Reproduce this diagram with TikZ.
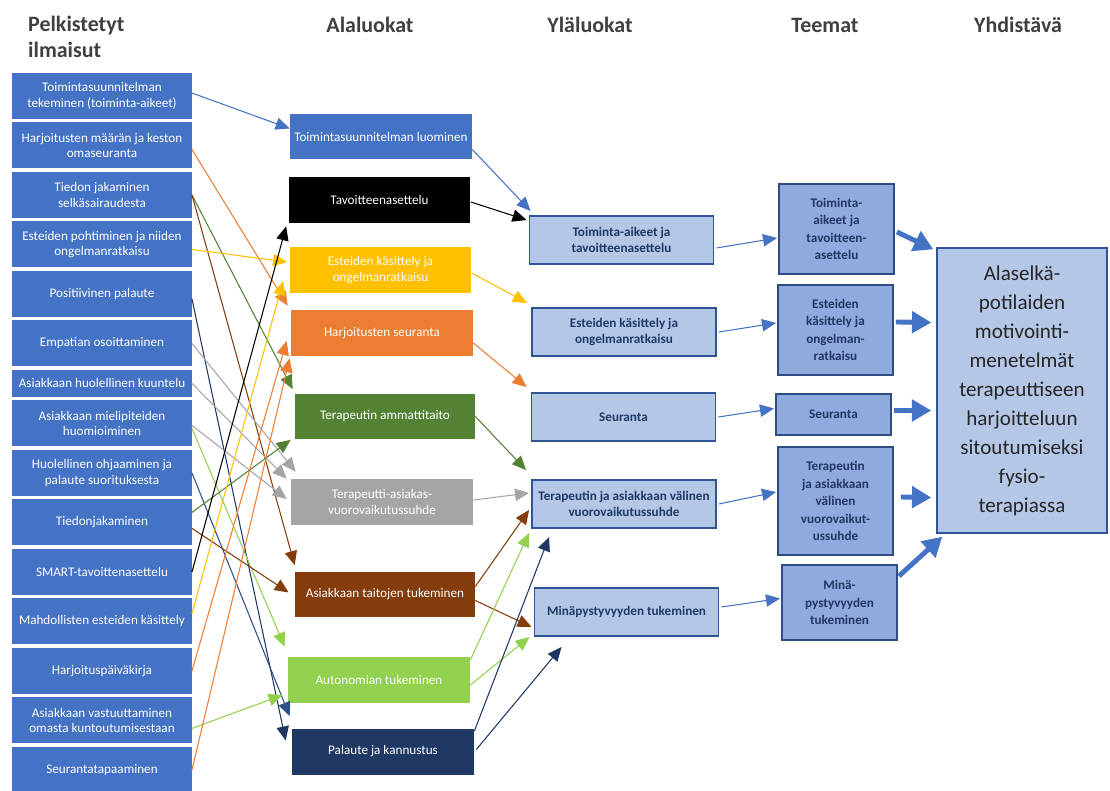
\documentclass[tikz,border=0pt]{standalone}
\usepackage{fontspec}
\setmainfont{Carlito}
\usepackage{tikz}
\usetikzlibrary{arrows.meta, positioning, calc}

\definecolor{officeblue}{HTML}{4472C4}
\definecolor{alaYellow}{HTML}{FFC000}
\definecolor{alaOrange}{HTML}{ED7D31}
\definecolor{alaGreen}{HTML}{548235}
\definecolor{alaGray}{HTML}{A5A5A5}
\definecolor{alaBrown}{HTML}{843C0C}
\definecolor{alaLight}{HTML}{92D050}
\definecolor{alaNavy}{HTML}{1F3864}
\definecolor{ylaFill}{HTML}{B4C7E7}
\definecolor{ylaEdge}{HTML}{2F5597}
\definecolor{teemaFill}{HTML}{8FAADC}
\definecolor{teemaEdge}{HTML}{2E4D85}
\definecolor{navyText}{HTML}{203864}

\begin{document}
\begin{tikzpicture}[
  x=0.02cm, y=-0.02cm,
  ilm/.style={fill=officeblue, text=white, minimum width=3.6cm, minimum height=0.92cm, inner sep=1pt, outer sep=0pt, align=center, font=\fontsize{7.5}{9}\selectfont},
  ala/.style={fill=#1, text=white, minimum width=3.64cm, minimum height=0.92cm, inner sep=1pt, align=center, font=\fontsize{7.5}{9}\selectfont},
  yla/.style={draw=ylaEdge, line width=1.1pt, fill=ylaFill, text=navyText, minimum width=3.68cm, minimum height=0.96cm, inner sep=1pt, align=center, font=\bfseries\fontsize{7.5}{9}\selectfont},
  teema/.style={draw=teemaEdge, line width=1.1pt, fill=teemaFill, text=navyText, minimum width=2.3cm, inner sep=1pt, align=center, font=\bfseries\fontsize{7.5}{10}\selectfont},
  otsikko/.style={text=black!75, font=\bfseries\fontsize{12.5}{14.5}\selectfont, align=left},
  link/.style={draw=#1, line width=0.6pt, -{Triangle[length=8pt,width=7pt]}},
  isonuoli/.style={draw=officeblue, line width=2.8pt, -{Triangle[length=11pt,width=12pt]}}
]
  \useasboundingbox [fill=white] (0,0) rectangle (1110,791);

  % column headings
  \node (h1) [otsikko, anchor=north west] at (22,10) {Pelkistetyt\\ilmaisut};
  \node (h2) [otsikko] at (370,25) {Alaluokat};
  \node (h3) [otsikko] at (590,25) {Yläluokat};
  \node (h4) [otsikko] at (825,25) {Teemat};
  \node (h5) [otsikko] at (1018,25) {Yhdistävä};

  % pelkistetyt ilmaisut
  \node (p1) [ilm] at (102,96) {Toimintasuunnitelman\\tekeminen (toiminta-aikeet)};
  \node (p2) [ilm, below=0.07cm of p1] {Harjoitusten määrän ja keston\\omaseuranta};
  \node (p3) [ilm, below=0.07cm of p2] {Tiedon jakaminen\\selkäsairaudesta};
  \node (p4) [ilm, below=0.07cm of p3] {Esteiden pohtiminen ja niiden\\ongelmanratkaisu};
  \node (p5) [ilm, below=0.07cm of p4] {Positiivinen palaute};
  \node (p6) [ilm, below=0.07cm of p5] {Empatian osoittaminen};
  \node (p7) [ilm, minimum height=0.54cm, below=0.07cm of p6] {Asiakkaan huolellinen kuuntelu};
  \node (p8) [ilm, below=0.07cm of p7] {Asiakkaan mielipiteiden\\huomioiminen};
  \node (p9) [ilm, below=0.07cm of p8] {Huolellinen ohjaaminen ja\\palaute suorituksesta};
  \node (p10) [ilm, below=0.07cm of p9] {Tiedonjakaminen};
  \node (p11) [ilm, below=0.07cm of p10] {SMART-tavoittenasettelu};
  \node (p12) [ilm, below=0.07cm of p11] {Mahdollisten esteiden käsittely};
  \node (p13) [ilm, below=0.07cm of p12] {Harjoituspäiväkirja};
  \node (p14) [ilm, below=0.07cm of p13] {Asiakkaan vastuuttaminen\\omasta kuntoutumisestaan};
  \node (p15) [ilm, below=0.07cm of p14] {Seurantatapaaminen};

  % alaluokat
  \node (luominen) [ala=officeblue] at (381,136.5) {Toimintasuunnitelman luominen};
  \node (tavoite) [ala=black] at (379.5,200) {Tavoitteenasettelu};
  \node (esteet) [ala=alaYellow] at (380.5,270) {Esteiden käsittely ja\\ongelmanratkaisu};
  \node (seuranta) [ala=alaOrange] at (382,333) {Harjoitusten seuranta};
  \node (ammatti) [ala=alaGreen, minimum width=3.6cm] at (385,416.5) {Terapeutin ammattitaito};
  \node (vuoro) [ala=alaGray] at (382,502) {Terapeutti-asiakas-\\vuorovaikutussuhde};
  \node (taidot) [ala=alaBrown, minimum width=3.6cm] at (385,594.5) {Asiakkaan taitojen tukeminen};
  \node (autonomia) [ala=alaLight] at (379,680) {Autonomian tukeminen};
  \node (palaute) [ala=alaNavy] at (383,751.5) {Palaute ja kannustus};

  % yläluokat
  \node (ytoim) [yla] at (621.5,240) {Toiminta-aikeet ja\\tavoitteenasettelu};
  \node (yest) [yla] at (624,332) {Esteiden käsittely ja\\ongelmanratkaisu};
  \node (yseur) [yla] at (623.5,417) {Seuranta};
  \node (yvuoro) [yla] at (624,504) {Terapeutin ja asiakkaan välinen\\vuorovaikutussuhde};
  \node (yminap) [yla] at (626.5,612) {Minäpystyvyyden tukeminen};

  % teemat
  \node (ttoim) [teema, minimum height=1.8cm] at (836.5,229) {Toiminta-\\aikeet ja\\tavoitteen-\\asettelu};
  \node (test) [teema, minimum height=1.8cm] at (835.5,330) {Esteiden\\käsittely ja\\ongelman-\\ratkaisu};
  \node (tseur) [teema, minimum height=0.82cm] at (833.5,414.5) {Seuranta};
  \node (tvuoro) [teema, minimum height=2.16cm] at (835.5,501) {Terapeutin\\ja asiakkaan\\välinen\\vuorovaikut-\\ussuhde};
  \node (tminap) [teema, minimum height=1.5cm] at (839.5,602.5) {Minä-\\pystyvyyden\\tukeminen};

  % yhdistävä teema
  \node (yhd) [draw=ylaEdge, line width=0.8pt, fill=ylaFill, text=black!85, minimum width=3.4cm, minimum height=5.7cm, align=center, font=\fontsize{12}{16.5}\selectfont] at (1022,390.5)
    {Alaselkä-\\potilaiden\\motivointi-\\menetelmät\\terapeuttiseen\\harjoitteluun\\sitoutumiseksi\\fysio-\\terapiassa};

  % ilmaisut -> alaluokat
  \draw [link=officeblue] ($(p1.east)+(0,-3)$) -- ($(luominen.west)+(0,-8)$);
  \draw [link=alaOrange] ($(p2.east)+(0,4)$) -- ($(seuranta.north west)+(-3,-4)$);
  \draw [link=alaGreen] (p3.east) -- ($(ammatti.north west)+(-2,-4)$);
  \draw [link=alaBrown] (p3.east) -- ($(taidot.north west)+(0,-6)$);
  \draw [link=alaYellow] ($(p4.east)+(0,5)$) -- ($(esteet.west)+(-2,-8)$);
  \draw [link=alaNavy] ($(p5.east)+(0,5)$) -- ($(palaute.west)+(-6,-11)$);
  \draw [link=alaGray] (p6.east) -- ($(vuoro.north west)+(5,-7)$);
  \draw [link=alaGray] (p7.east) -- ($(vuoro.north west)+(-4,0)$);
  \draw [link=alaGray] ($(p8.east)+(0,2)$) -- ($(vuoro.west)+(-4,-3)$);
  \draw [link=alaLight] ($(p8.east)+(0,5)$) -- ($(autonomia.north west)+(-3,-10)$);
  \draw [link=officeblue!40!alaNavy] (p9.east) -- ($(palaute.north west)+(-2,-12)$);
  \draw [link=alaGreen] ($(p10.east)+(0,-10)$) -- ($(ammatti.south west)+(-4,0)$);
  \draw [link=alaBrown] ($(p10.east)+(0,6)$) -- ($(taidot.west)+(-6,-2)$);
  \draw [link=black] (p11.east) -- ($(tavoite.south west)+(-2,3)$);
  \draw [link=alaYellow] ($(p12.east)+(0,-8)$) -- ($(esteet.west)+(-6,11)$);
  \draw [link=alaOrange] (p13.east) -- ($(seuranta.west)+(-4,8)$);
  \draw [link=alaLight] ($(p14.east)+(0,8)$) -- ($(autonomia.west)+(-5,15)$);
  \draw [link=alaOrange] (p15.east) -- ($(seuranta.south west)+(-1,2)$);

  % alaluokat -> yläluokat
  \draw [link=officeblue] ($(luominen.east)+(0,13)$) -- ($(ytoim.north west)+(2,-4)$);
  \draw [link=black] ($(tavoite.east)+(0,2)$) -- ($(ytoim.north west)+(-2,5)$);
  \draw [link=alaYellow] ($(esteet.east)+(0,3)$) -- ($(yest.north west)+(-4,-4)$);
  \draw [link=alaOrange] ($(seuranta.east)+(0,10)$) -- ($(yseur.north west)+(-4,-5)$);
  \draw [link=alaGreen] (ammatti.east) -- ($(yvuoro.north west)+(-5,-9)$);
  \draw [link=alaGray] ($(vuoro.east)+(0,-2)$) -- ($(yvuoro.west)+(-2,-11)$);
  \draw [link=alaBrown] ($(taidot.east)+(0,-8)$) -- ($(yvuoro.west)+(-2,6)$);
  \draw [link=alaBrown] ($(taidot.east)+(0,6)$) -- ($(yminap.west)+(-2,15)$);
  \draw [link=alaLight] ($(autonomia.east)+(0,-20)$) -- ($(yvuoro.south west)+(-2,4)$);
  \draw [link=alaLight] ($(autonomia.east)+(0,5)$) -- ($(yminap.south west)+(-4,0)$);
  \draw [link=alaNavy] ($(palaute.north east)+(0,3)$) -- ($(yvuoro.south west)+(18,8)$);
  \draw [link=alaNavy] ($(palaute.east)+(2,-2)$) -- ($(yminap.south west)+(28,10)$);

  % yläluokat -> teemat
  \draw [link=officeblue] ($(ytoim.east)+(2,8)$) -- ($(ttoim.west)+(-1,9)$);
  \draw [link=officeblue] ($(yest.east)+(2,0)$) -- ($(test.west)+(-1,-7)$);
  \draw [link=officeblue] ($(yseur.east)+(2,0)$) -- ($(tseur.west)+(-1,-6)$);
  \draw [link=officeblue] ($(yvuoro.east)+(2,0)$) -- ($(tvuoro.west)+(-1,-9)$);
  \draw [link=officeblue] ($(yminap.east)+(2,-5)$) -- ($(tminap.west)+(-1,-4)$);

  % teemat -> yhdistävä
  \draw [isonuoli] ($(ttoim.east)+(2,3)$) -- ($(yhd.north west)+(-3,2)$);
  \draw [isonuoli] ($(test.east)+(2,-8)$) -- ($(yhd.west)+(-5,-68)$);
  \draw [isonuoli] ($(tseur.east)+(2,-4)$) -- ($(yhd.west)+(-5,20)$);
  \draw [isonuoli] ($(tvuoro.east)+(7,-4)$) -- ($(yhd.west)+(-5,107)$);
  \draw [isonuoli] ($(tminap.north east)+(1,12)$) -- ($(yhd.south west)+(6,3)$);
\end{tikzpicture}
\end{document}
